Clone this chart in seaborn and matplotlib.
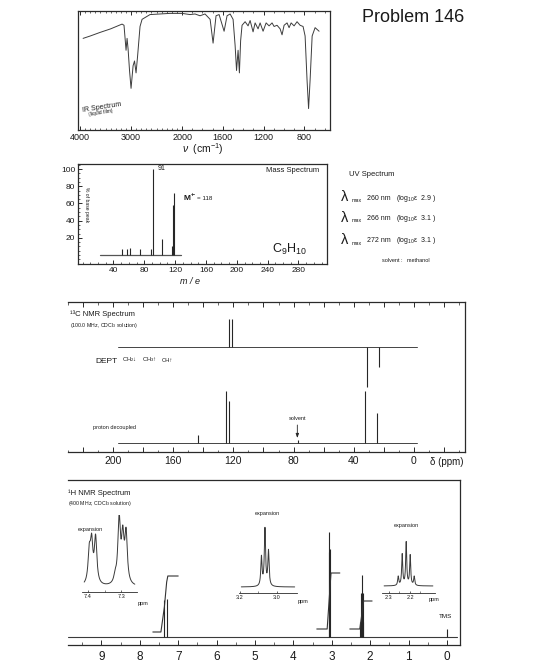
import numpy as np
import matplotlib
matplotlib.use("Agg")
import matplotlib.pyplot as plt
from matplotlib.ticker import FixedLocator, FuncFormatter, MultipleLocator, NullFormatter
import seaborn as sns

# ---------------- data ----------------
# IR spectrum (wavenumber cm-1, % transmittance)
ir_wavenumber = [3940, 3800, 3608, 3400, 3176, 3138, 3098, 3078, 3058, 3030, 3000, 2960,
                 2932, 2902, 2872, 2824, 2784, 2628, 2236, 2000, 1922, 1873, 1824, 1775,
                 1725, 1696, 1667, 1637, 1588, 1559, 1529, 1500, 1480, 1466, 1451, 1438,
                 1426, 1412, 1382, 1353, 1333, 1304, 1284, 1255, 1235, 1206, 1176, 1147,
                 1118, 1098, 1069, 1039, 1020, 1000, 971, 951, 931, 902, 873, 843, 814,
                 794, 775, 760, 745, 725, 696, 657]
ir_transmittance = [77, 79, 82, 85, 89, 88, 67, 77, 68, 50, 35, 54,
                    58, 48, 62, 87, 93, 97, 98, 98, 97, 97.5, 96, 97.5,
                    93, 73, 96, 97, 83, 96, 97.5, 93, 71, 50, 67, 48,
                    75, 88, 91, 87.5, 92, 82.5, 90, 85, 90, 83, 90, 87.5,
                    90, 87, 88, 85, 80, 88, 90, 86, 90, 87.5, 91, 88, 87,
                    79, 42, 18, 42, 79, 86, 83]
ir_ticks = [4000, 3000, 2000, 1600, 1200, 800]

# Mass spectrum (m/z, % of base peak)
ms_mz = [51, 58, 62, 75, 89, 91, 103, 116, 117, 118]
ms_intensity = [7, 7, 8, 7, 7, 100, 19, 10, 58, 72]
ms_baseline_mz = [22, 128]
ms_xticks = [40, 80, 120, 160, 200, 240, 280]
ms_yticks = [20, 40, 60, 80, 100]

# UV data
uv_lambda_nm = [260, 266, 272]
uv_log_eps = [2.9, 3.1, 3.1]

# 13C NMR (ppm, peak height)
c13_ppm = [143.5, 125.0, 123.0, 77.0, 32.5, 24.5]
c13_height = [8, 52, 42, 3, 52, 30]
dept_ppm = [123.0, 121.0, 31.0, 23.0]
dept_height = [28, 28, -40, -20]
c13_range = [197, -2]
c13_labels = [200, 160, 120, 80, 40, 0]

# 1H NMR main trace (ppm, height)
h1_ppm = [7.38, 7.30, 3.084, 3.065, 3.046, 2.256, 2.237, 2.218, 2.199, 2.180, 0.0]
h1_height = [37, 38, 85, 105, 88, 15, 44, 62, 44, 15, 8]
h1_range = [9.87, -0.25]
h1_ticks = [0, 1, 2, 3, 4, 5, 6, 7, 8, 9]
# integrals
int_arom_ppm = [7.66, 7.45, 7.36, 7.30, 7.27, 7.00]
int_arom_val = [5, 5, 30, 55, 61, 61]
int_ch2a_ppm = [3.39, 3.12, 3.07, 3.02, 2.79]
int_ch2a_val = [8, 8, 36, 64, 64]
int_ch2b_ppm = [2.53, 2.27, 2.22, 2.17, 1.95]
int_ch2b_val = [8, 8, 22, 36, 36]
# expansions
exp_arom_ppm = [7.396, 7.389, 7.377, 7.318, 7.306, 7.295, 7.285]
exp_arom_h = [30, 39, 46, 7, 65, 44, 49]
exp_tri_ppm = [3.084, 3.065, 3.046]
exp_tri_h = [29, 57, 35]
exp_quin_ppm = [2.256, 2.237, 2.218, 2.199, 2.180]
exp_quin_h = [9, 31, 43, 30, 9]

# ---------------- style ----------------
sns.set_theme(style="white")
FAM = ['Liberation Sans', 'DejaVu Sans']
plt.rcParams['font.family'] = FAM
plt.rcParams['mathtext.fontset'] = 'custom'
plt.rcParams['mathtext.rm'] = 'Liberation Sans'
plt.rcParams['mathtext.it'] = 'Liberation Sans:italic'
plt.rcParams['mathtext.bf'] = 'Liberation Sans:bold'
plt.rcParams['axes.linewidth'] = 0.9
plt.rcParams['axes.edgecolor'] = '#2a2a2a'
plt.rcParams['xtick.color'] = '#2a2a2a'
plt.rcParams['ytick.color'] = '#2a2a2a'
plt.rcParams['text.color'] = '#1a1a1a'
plt.rcParams['xtick.labelcolor'] = '#1a1a1a'
plt.rcParams['ytick.labelcolor'] = '#1a1a1a'

INK = '#262626'
W, H = 560, 666
fig = plt.figure(figsize=(W / 100, H / 100), dpi=100)
fig.patch.set_facecolor('white')


def box(x0, y0, x1, y1):
    return [x0 / W, 1 - y1 / H, (x1 - x0) / W, (y1 - y0) / H]


def ftext(x, y, s, **kw):
    kw.setdefault('va', 'center')
    kw.setdefault('ha', 'left')
    fig.text(x / W, 1 - y / H, s, **kw)


def line(ax, x, y, lw=0.7, color=INK):
    sns.lineplot(x=x, y=y, ax=ax, color=color, linewidth=lw,
                 estimator=None, sort=False, legend=False)


def peak_shape(grid, centers, heights, hwhm):
    g = np.asarray(grid)[:, None]
    c = np.asarray(centers, float)[None, :]
    h = np.asarray(heights, float)[None, :]
    return (h / (1 + ((g - c) / hwhm) ** 2)).sum(axis=1)


# ---------------- title ----------------
ftext(362, 17, "Problem 146", fontsize=13)

# ---------------- IR ----------------
ax_ir = fig.add_axes(box(78, 11, 330, 130))


def ir_fwd(v):
    v = np.asarray(v, float)
    return np.where(v >= 2000, v / 2 + 1000, v)


def ir_inv(u):
    u = np.asarray(u, float)
    return np.where(u >= 2000, (u - 1000) * 2, u)


ax_ir.set_xscale('function', functions=(ir_fwd, ir_inv))
line(ax_ir, ir_wavenumber, ir_transmittance, lw=0.7, color='#3c3c3c')
ax_ir.set_xlim(4040, 550)
ax_ir.set_ylim(0, 100)
ax_ir.xaxis.set_major_locator(FixedLocator(ir_ticks))
ax_ir.xaxis.set_minor_locator(FixedLocator(list(range(600, 4001, 100))))
ax_ir.xaxis.set_major_formatter(FuncFormatter(lambda v, p: f"{v:.0f}"))
ax_ir.xaxis.set_minor_formatter(NullFormatter())
ax_ir.tick_params(axis='x', which='both', direction='in', top=True, bottom=True)
ax_ir.tick_params(axis='x', which='major', length=3, width=0.7, labelsize=6.5, pad=2)
ax_ir.tick_params(axis='x', which='minor', length=1.5, width=0.5)
ax_ir.set_yticks([])
ax_ir.set_xlabel('')
ax_ir.set_ylabel('')
ftext(82, 107, "IR Spectrum", fontsize=5, rotation=9)
ftext(88, 113, "(liquid film)", fontsize=3.6, rotation=9)
ftext(203, 149, r"$\nu$  (cm$^{-1}$)", fontsize=7.5, ha='center')

# ---------------- Mass spectrum ----------------
ax_ms = fig.add_axes(box(78, 164, 327, 264))
line(ax_ms, ms_baseline_mz, [0, 0], lw=0.9, color='#555555')
ax_ms.vlines(ms_mz, 0, ms_intensity, color=INK, lw=0.8)
ax_ms.set_xlim(-6, 317)
ax_ms.set_ylim(-10.5, 106)
ax_ms.xaxis.set_major_locator(FixedLocator(ms_xticks))
ax_ms.xaxis.set_minor_locator(MultipleLocator(10))
ax_ms.yaxis.set_major_locator(FixedLocator(ms_yticks))
ax_ms.yaxis.set_minor_locator(MultipleLocator(5))
ax_ms.tick_params(which='both', direction='in', bottom=True, left=True)
ax_ms.tick_params(which='major', length=3, width=0.7, labelsize=6, pad=2)
ax_ms.tick_params(which='minor', length=1.5, width=0.5)
ax_ms.set_xlabel('')
ax_ms.set_ylabel('')
ftext(158, 168, "91", fontsize=5)
ftext(184, 198, "M", fontsize=6, fontweight='bold')
ftext(190.5, 195, "+·", fontsize=4.2, fontweight='bold')
ftext(197, 198.5, "= 118", fontsize=4.5)
ftext(266, 171, "Mass Spectrum", fontsize=5.5)
ftext(272, 249, r"C$_9$H$_{10}$", fontsize=9)
ftext(86, 205, "% of base peak", fontsize=3.6, rotation=-90, ha='center')
ftext(190, 282, "m / e", fontsize=6.5, style='italic', ha='center')

# ---------------- UV ----------------
ftext(349, 175, "UV Spectrum", fontsize=5.5)
for yy, nm, le in zip([197, 218, 240], uv_lambda_nm, uv_log_eps):
    ftext(341, yy, "λ", fontsize=10.5)
    ftext(352, yy + 3, "max", fontsize=3.8)
    ftext(367, yy + 1, f"{nm} nm", fontsize=5)
    ftext(396, yy + 1, r"(log$_{10}$ε  " + f"{le:.1f} )", fontsize=5)
ftext(382, 260, "solvent :   methanol", fontsize=4)

# ---------------- 13C NMR ----------------
ax_c = fig.add_axes(box(68, 302, 465, 452))
DEPT_OFF = 96
line(ax_c, c13_range, [0, 0], lw=0.7, color='#444444')
line(ax_c, c13_range, [DEPT_OFF, DEPT_OFF], lw=0.7, color='#444444')
ax_c.vlines(c13_ppm, 0, c13_height, color=INK, lw=0.8)
ax_c.vlines(dept_ppm, DEPT_OFF, [DEPT_OFF + h for h in dept_height], color=INK, lw=0.8)
ax_c.set_xlim(230, -34)
ax_c.set_ylim(-9, 141)
ax_c.spines['left'].set_visible(False)
ax_c.xaxis.set_major_locator(FixedLocator(list(range(-20, 221, 20))))
ax_c.xaxis.set_minor_locator(MultipleLocator(10))
ax_c.xaxis.set_major_formatter(FuncFormatter(
    lambda v, p: f"{v:.0f}" if round(v) in c13_labels else ""))
ax_c.tick_params(axis='x', which='both', direction='in', top=True, bottom=True)
ax_c.tick_params(axis='x', which='major', length=3.5, width=0.7, labelsize=7.5, pad=3)
ax_c.tick_params(axis='x', which='minor', length=1.8, width=0.5)
ax_c.set_yticks([])
ax_c.set_xlabel('')
ax_c.set_ylabel('')
ax_c.text(77.5, 24, "solvent", fontsize=4, ha='center', va='center')
ax_c.annotate("", xy=(77.5, 5), xytext=(77.5, 18),
              arrowprops=dict(arrowstyle="-|>,head_length=0.5,head_width=0.18",
                              lw=0.6, color=INK, mutation_scale=5,
                              shrinkA=0, shrinkB=0))
ftext(447, 462, "δ (ppm)", fontsize=7, ha='center')
ftext(70, 314, "¹³C NMR Spectrum", fontsize=5.5)
ftext(70, 325, r"(100.0 MHz, CDCl$_3$ solution)", fontsize=3.8)
ftext(95, 361, "DEPT", fontsize=6)
ftext(122, 360, r"CH$_2$↓", fontsize=4.2)
ftext(142, 360, r"CH$_3$↑", fontsize=4.2)
ftext(162, 360, r"CH↑", fontsize=4.2)
ftext(93, 427, "proton decoupled", fontsize=4)

# ---------------- 1H NMR ----------------
ax_h = fig.add_axes(box(68, 480, 460, 645))
line(ax_h, h1_range, [0, 0], lw=0.8, color='#3a3a3a')
ax_h.vlines(h1_ppm, 0, h1_height, color=INK, lw=0.8)
for xs, ys in [(int_arom_ppm, int_arom_val), (int_ch2a_ppm, int_ch2a_val),
               (int_ch2b_ppm, int_ch2b_val)]:
    line(ax_h, xs, ys, lw=0.8, color='#333333')
ax_h.set_xlim(9.87, -0.34)
ax_h.set_ylim(-8, 157)
ax_h.spines['left'].set_visible(False)
ax_h.xaxis.set_major_locator(FixedLocator(h1_ticks))
ax_h.xaxis.set_minor_locator(MultipleLocator(0.5))
ax_h.tick_params(axis='x', which='both', direction='in', bottom=True, top=False)
ax_h.tick_params(axis='x', which='major', length=3.5, width=0.7, labelsize=8.5, pad=4)
ax_h.tick_params(axis='x', which='minor', length=2, width=0.5)
ax_h.set_yticks([])
ax_h.set_xlabel('')
ax_h.set_ylabel('')
ftext(68, 493, "¹H NMR Spectrum", fontsize=5.5)
ftext(68, 503, r"(400 MHz, CDCl$_3$ solution)", fontsize=3.8)
ftext(445, 617, "TMS", fontsize=4.5, ha='center')

# expansions
insets = [
    (box(82, 515, 137, 592), (7.418, 7.252), (-5, 72), exp_arom_ppm, exp_arom_h, 0.0045,
     [7.4, 7.3], [7.35], (138, 603), (90, 529)),
    (box(239, 515, 297, 593), (3.205, 2.892), (-6, 72), exp_tri_ppm, exp_tri_h, 0.004,
     [3.2, 3.0], [3.1], (298, 602), (267, 513)),
    (box(382, 515, 435, 593), (2.333, 2.081), (-7, 71), exp_quin_ppm, exp_quin_h, 0.003,
     [2.3, 2.2], [2.25, 2.15], (429, 600), (406, 525)),
]
for rect, xl, yl, pp, hh, w, majors, minors, ppm_xy, exp_xy in insets:
    ai = fig.add_axes(rect)
    ai.patch.set_alpha(0)
    lo, hi = xl
    grid = np.linspace(lo - 0.04 * (lo - hi), hi + 0.04 * (lo - hi), 1500)
    line(ai, grid, peak_shape(grid, pp, hh, w), lw=0.7, color='#3a3a3a')
    ai.set_xlim(lo, hi)
    ai.set_ylim(*yl)
    for s in ['left', 'right', 'top']:
        ai.spines[s].set_visible(False)
    ai.spines['bottom'].set_linewidth(0.6)
    ai.xaxis.set_major_locator(FixedLocator(majors))
    ai.xaxis.set_minor_locator(FixedLocator(minors))
    ai.xaxis.set_major_formatter(FuncFormatter(lambda v, p: f"{v:.1f}"))
    ai.tick_params(axis='x', which='both', direction='in', bottom=True)
    ai.tick_params(axis='x', which='major', length=1.8, width=0.5, labelsize=4, pad=1.5)
    ai.tick_params(axis='x', which='minor', length=1.2, width=0.4)
    ai.set_yticks([])
    ai.set_xlabel('')
    ai.set_ylabel('')
    ftext(ppm_xy[0], ppm_xy[1], "ppm", fontsize=4)
    ftext(exp_xy[0], exp_xy[1], "expansion", fontsize=4, ha='center')

fig.savefig("out.png", dpi=100, facecolor='white')
